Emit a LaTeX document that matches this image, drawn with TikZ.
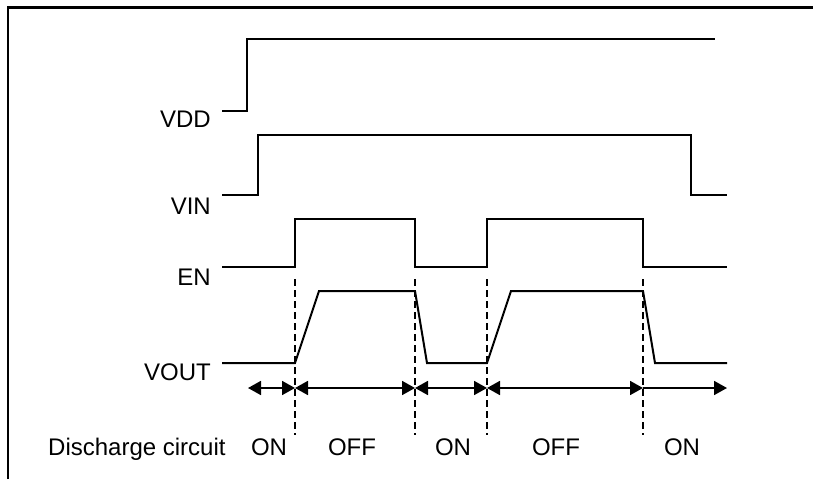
\documentclass[tikz,border=0pt]{standalone}
\usepackage{fontspec}
\setmainfont{Liberation Sans}
\usetikzlibrary{arrows.meta}
\begin{document}
\begin{tikzpicture}[x=1pt,y=-1pt,
  sig/.style={line width=2pt, line join=miter},
  lbl/.style={anchor=base east, inner sep=0pt, font=\fontsize{24}{28}\selectfont},
  txt/.style={anchor=base, inner sep=0pt, font=\fontsize{24}{28}\selectfont},
  guide/.style={line width=1.8pt, dash pattern=on 7pt off 4pt},
  tip/.tip={Triangle[length=13pt,width=14pt]},
  dimboth/.style={line width=1.8pt, tip-tip},
  dimright/.style={line width=1.8pt, -tip},
]
\useasboundingbox (0,0) rectangle (813,479);
% frame
\draw[line width=2pt] (8,479) -- (8,7);
\draw[line width=3pt] (7,7) -- (813,7);

% labels
\node[lbl] (vdd) at (211,127) {VDD};
\node[lbl] (vin) at (211,214) {VIN};
\node[lbl] (en) at (211,285) {EN};
\node[lbl] (vout) at (211,380) {VOUT};

% signals
\draw[sig] (222,111) -- (247,111) -- (247,39) -- (715,39);
\draw[sig] (222,195) -- (258,195) -- (258,135) -- (691,135) -- (691,195) -- (727,195);
\draw[sig] (222,267) -- (295,267) -- (295,219) -- (415,219) -- (415,267) -- (487,267) -- (487,219) -- (643,219) -- (643,267) -- (727,267);
\draw[sig] (222,363) -- (295,363) -- (319,291) -- (415,291) -- (427,363) -- (487,363) -- (511,291) -- (643,291) -- (655,363) -- (727,363);

% time markers
\coordinate (t0) at (248,388);
\coordinate (t1) at (295,388);
\coordinate (t2) at (415,388);
\coordinate (t3) at (487,388);
\coordinate (t4) at (643,388);
\coordinate (t5) at (727,388);
\foreach \x in {295,415,487,643}
  \draw[guide] (\x,279) -- (\x,435);

% intervals
\draw[dimboth] (t0) -- (t1);
\draw[dimboth] (t1) -- (t2);
\draw[dimboth] (t2) -- (t3);
\draw[dimboth] (t3) -- (t4);
\draw[dimright] (t4) -- (t5);

% bottom labels
\node[txt, anchor=base west] (dc) at (48,455) {Discharge circuit};
\node[txt] (on1) at (269,455) {ON};
\node[txt] (off1) at (352,455) {OFF};
\node[txt] (on2) at (453,455) {ON};
\node[txt] (off2) at (556,455) {OFF};
\node[txt] (on3) at (682,455) {ON};
\end{tikzpicture}
\end{document}
